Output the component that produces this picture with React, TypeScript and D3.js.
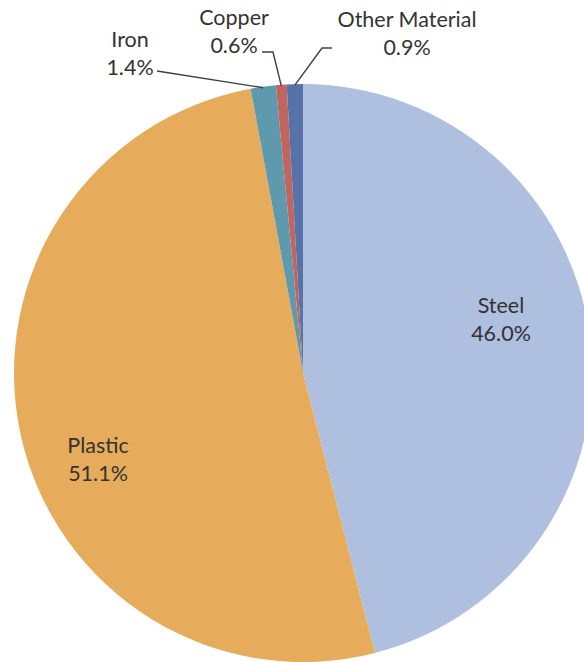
import React from 'react';
import * as d3 from 'd3';

const categories = ['Steel', 'Plastic', 'Iron', 'Copper', 'Other Material'];
const values = [46.0, 51.1, 1.4, 0.6, 0.9];
const colors = ['#aebfdf', '#e6ac5c', '#5e99ad', '#c1665f', '#5672a9'];

const W = 584;
const H = 662;
const cx = 303;
const cy = 373;
const radius = 289;
const lineGap = 28;

// label block centre x and first baseline, relative to the pie centre
const labelPos: Record<string, [number, number]> = {
  Steel: [198, -60],
  Plastic: [-205, 80],
  Iron: [-173, -326],
  Copper: [-69, -348],
  'Other Material': [104, -346],
};

// leader line start points (outside labels only), relative to the pie centre
const leaderStart: Record<string, [number, number][]> = {
  Iron: [[-146, -302]],
  Copper: [[-41, -321], [-30, -321]],
  'Other Material': [[29, -325], [19, -325]],
};

const App: React.FC = () => {
  const pie = d3.pie<number>().sort(null).value(d => d);
  const arcs = pie(values);
  const arc = d3.arc<d3.PieArcDatum<number>>().innerRadius(0).outerRadius(radius);
  const edge = d3.arc<d3.PieArcDatum<number>>().innerRadius(radius - 1).outerRadius(radius - 1);
  const fmt = d3.format('.1f');

  return (
    <div style={{ position: 'absolute', left: 0, top: 0 }}>
      <svg width={W} height={H} style={{ display: 'block', background: '#fff' }}>
        <g transform={`translate(${cx},${cy})`}>
          {arcs.map((a, i) => (
            <path key={categories[i]} d={arc(a) || ''} fill={colors[i]} />
          ))}
          {arcs.map((a, i) => {
            const name = categories[i];
            const start = leaderStart[name];
            if (!start) return null;
            const pts = [...start, edge.centroid(a) as [number, number]];
            return (
              <polyline
                key={'l' + name}
                points={pts.map(p => p.join(',')).join(' ')}
                fill="none"
                stroke="#404040"
                strokeWidth={1.4}
              />
            );
          })}
          {arcs.map((a, i) => {
            const name = categories[i];
            const [x, y] = labelPos[name];
            return (
              <text
                key={'t' + name}
                x={x}
                y={y}
                textAnchor="middle"
                fontFamily="Lato, 'Open Sans', sans-serif"
                fontSize={21.5}
                fill="#333"
              >
                <tspan x={x} y={y}>{name}</tspan>
                <tspan x={x} y={y + lineGap}>{fmt(values[i])}%</tspan>
              </text>
            );
          })}
        </g>
      </svg>
    </div>
  );
};

export default App;
